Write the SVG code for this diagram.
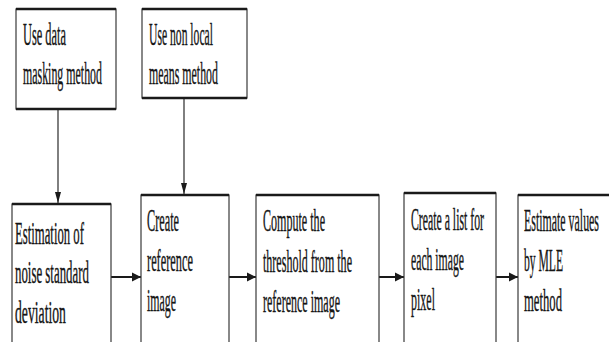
<svg xmlns="http://www.w3.org/2000/svg" width="609" height="342" viewBox="0 0 609 342">
<style>
.box{fill:#ffffff;stroke:#3a3a3a;stroke-width:1.2}
.edge{stroke:#1a1a1a;stroke-width:2.4;fill:none}
.t{font-family:"Liberation Serif","Times New Roman",serif;font-size:31px;fill:#151515;stroke:#151515;stroke-width:0.4}
.conn{stroke:#2a2a2a;stroke-width:1.2;fill:none}
.harr{stroke:#1a1a1a;stroke-width:2;fill:none}
</style>
<defs>
<marker id="ah" markerWidth="10" markerHeight="10" refX="9" refY="5" orient="auto" markerUnits="userSpaceOnUse">
<path d="M0,0.5 L9,5 L0,9.5 Z" fill="#1a1a1a"/>
</marker>
<marker id="av" markerWidth="12" markerHeight="8" refX="11" refY="4" orient="auto" markerUnits="userSpaceOnUse">
<path d="M0,1 L11,4 L0,7 Z" fill="#1a1a1a"/>
</marker>
</defs>
<rect width="609" height="342" fill="#ffffff"/>

<g id="connectors">
<line class="conn" x1="58" y1="109" x2="58" y2="203" marker-end="url(#av)"/>
<line class="conn" x1="184" y1="98" x2="184" y2="194" marker-end="url(#av)"/>
<line class="harr" x1="111" y1="277" x2="141" y2="277" marker-end="url(#ah)"/>
<line class="harr" x1="229" y1="277" x2="256" y2="277" marker-end="url(#ah)"/>
<line class="harr" x1="379" y1="277" x2="404" y2="277" marker-end="url(#ah)"/>
<line class="harr" x1="496" y1="277" x2="518" y2="277" marker-end="url(#ah)"/>
</g>

<g id="n-masking">
<rect class="box" x="16" y="9" width="100" height="100"/>
<line class="edge" x1="16" y1="9" x2="116" y2="9"/>
<line class="edge" x1="16" y1="109" x2="116" y2="109"/>
<g transform="scale(0.45,1)">
<text class="t" x="51.1" y="45" textLength="95.6" lengthAdjust="spacingAndGlyphs">Use data</text>
<text class="t" x="51.1" y="84" textLength="175.6" lengthAdjust="spacingAndGlyphs">masking method</text>
</g>
</g>

<g id="n-nonlocal">
<rect class="box" x="142" y="9" width="105" height="89"/>
<line class="edge" x1="142" y1="9" x2="247" y2="9"/>
<line class="edge" x1="142" y1="98" x2="247" y2="98"/>
<g transform="scale(0.45,1)">
<text class="t" x="331.1" y="45" textLength="142.2" lengthAdjust="spacingAndGlyphs">Use non local</text>
<text class="t" x="331.1" y="84" textLength="153.3" lengthAdjust="spacingAndGlyphs">means method</text>
</g>
</g>

<g id="n-estimation">
<rect class="box" x="12" y="204" width="99" height="150"/>
<line class="edge" x1="12" y1="204" x2="111" y2="204"/>
<g transform="scale(0.45,1)">
<text class="t" x="33.3" y="244" textLength="153.3" lengthAdjust="spacingAndGlyphs">Estimation of</text>
<text class="t" x="33.3" y="283" textLength="164.4" lengthAdjust="spacingAndGlyphs">noise standard</text>
<text class="t" x="33.3" y="323" textLength="113.3" lengthAdjust="spacingAndGlyphs">deviation</text>
</g>
</g>

<g id="n-reference">
<rect class="box" x="141" y="195" width="88" height="160"/>
<line class="edge" x1="141" y1="195" x2="229" y2="195"/>
<g transform="scale(0.45,1)">
<text class="t" x="326.7" y="231" textLength="71.1" lengthAdjust="spacingAndGlyphs">Create</text>
<text class="t" x="326.7" y="271" textLength="102.2" lengthAdjust="spacingAndGlyphs">reference</text>
<text class="t" x="326.7" y="311" textLength="64.4" lengthAdjust="spacingAndGlyphs">image</text>
</g>
</g>

<g id="n-threshold">
<rect class="box" x="256" y="195" width="123" height="160"/>
<line class="edge" x1="256" y1="195" x2="379" y2="195"/>
<g transform="scale(0.45,1)">
<text class="t" x="584.4" y="231" textLength="137.8" lengthAdjust="spacingAndGlyphs">Compute the</text>
<text class="t" x="584.4" y="272" textLength="197.8" lengthAdjust="spacingAndGlyphs">threshold from the</text>
<text class="t" x="584.4" y="312" textLength="171.1" lengthAdjust="spacingAndGlyphs">reference image</text>
</g>
</g>

<g id="n-list">
<rect class="box" x="404" y="193" width="92" height="162"/>
<line class="edge" x1="404" y1="193" x2="496" y2="193"/>
<g transform="scale(0.45,1)">
<text class="t" x="913.3" y="230" textLength="162.2" lengthAdjust="spacingAndGlyphs">Create a list for</text>
<text class="t" x="913.3" y="270" textLength="117.8" lengthAdjust="spacingAndGlyphs">each image</text>
<text class="t" x="913.3" y="310" textLength="53.3" lengthAdjust="spacingAndGlyphs">pixel</text>
</g>
</g>

<g id="n-mle">
<rect class="box" x="518" y="195" width="110" height="160"/>
<line class="edge" x1="518" y1="195" x2="628" y2="195"/>
<g transform="scale(0.4,1)">
<text class="t" x="1310" y="231" textLength="187.5" lengthAdjust="spacingAndGlyphs">Estimate values</text>
<text class="t" x="1310" y="271" textLength="97.5" lengthAdjust="spacingAndGlyphs">by MLE</text>
<text class="t" x="1310" y="311" textLength="95" lengthAdjust="spacingAndGlyphs">method</text>
</g>
</g>
</svg>
